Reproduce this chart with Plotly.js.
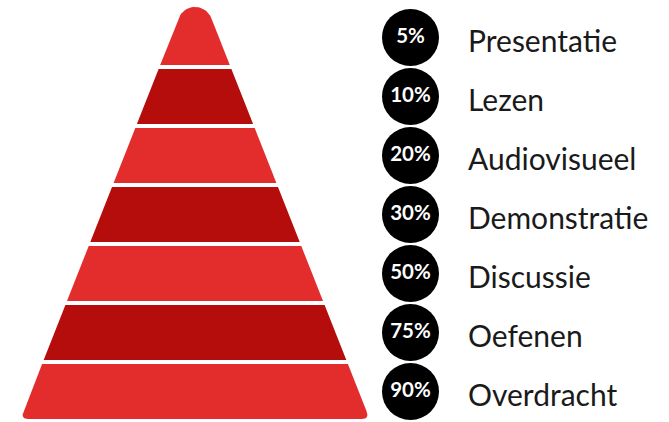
<!DOCTYPE html>
<html>
<head>
<meta charset="utf-8">
<script src="https://cdn.plot.ly/plotly-3.0.1.min.js"></script>
<style>
  html, body { margin: 0; padding: 0; background: #ffffff; }
  #chart { width: 669px; height: 422px; }
</style>
</head>
<body>
<div id="chart"></div>
<script>
// ---- data ----
const levels = ['Presentatie', 'Lezen', 'Audiovisueel', 'Demonstratie', 'Discussie', 'Oefenen', 'Overdracht'];
const retention = [5, 10, 20, 30, 50, 75, 90];
const retentionLabels = retention.map(v => v + '%');
const layerColors = ['#e32c2c', '#b50c0c'];

// ---- geometry (axis units) ----
const W = 669, H = 422;
const CX = 195;            // pyramid axis
const APEX = -23.1;        // virtual apex of the triangle
const SLOPE = 0.395;       // half-width growth per unit of depth
const ROW0 = 37.5, ROW = 59, HALF = 27.5;  // band centers / half height
const CIRCLE_X = 410.5, LABEL_X = 466;

const hw = y => SLOPE * (y - APEX);
const rowY = i => ROW0 + i * ROW;

function quad(p0, p1, p2, n) {
  const pts = [];
  for (let k = 0; k <= n; k++) {
    const t = k / n;
    pts.push([
      (1 - t) * (1 - t) * p0[0] + 2 * (1 - t) * t * p1[0] + t * t * p2[0],
      (1 - t) * (1 - t) * p0[1] + 2 * (1 - t) * t * p1[1] + t * t * p2[1]
    ]);
  }
  return pts;
}

function layerPath(i, n) {
  const top = rowY(i) - HALF, bot = rowY(i) + HALF;
  let pts = [];
  if (i === 0) {
    // rounded cap tangent to both edges
    const ang = Math.atan(SLOPE);
    const r = (top - 3 - APEX) / (1 / Math.sin(ang) - 1);
    const cy = APEX + r / Math.sin(ang);
    const a0 = Math.PI / 2 - ang;
    pts.push([CX - hw(bot), bot]);
    for (let k = 0; k <= 24; k++) {
      const th = -a0 + 2 * a0 * k / 24;
      pts.push([CX + r * Math.sin(th), cy - r * Math.cos(th)]);
    }
    pts.push([CX + hw(bot), bot]);
  } else if (i === n - 1) {
    const rr = 8;
    pts.push([CX - hw(top), top]);
    pts = pts.concat(quad([CX - hw(bot - rr), bot - rr], [CX - hw(bot), bot], [CX - hw(bot) + rr, bot], 8));
    pts = pts.concat(quad([CX + hw(bot) - rr, bot], [CX + hw(bot), bot], [CX + hw(bot - rr), bot - rr], 8));
    pts.push([CX + hw(top), top]);
  } else {
    pts = [[CX - hw(top), top], [CX - hw(bot), bot], [CX + hw(bot), bot], [CX + hw(top), top]];
  }
  pts.push(pts[0]);
  return pts;
}

const traces = levels.map((name, i) => {
  const p = layerPath(i, levels.length);
  return {
    type: 'scatter', mode: 'lines', name: name,
    x: p.map(q => q[0]), y: p.map(q => q[1]),
    fill: 'toself', fillcolor: layerColors[i % 2],
    line: { width: 0, color: layerColors[i % 2] },
    hoverinfo: 'skip', showlegend: false
  };
});

traces.push({
  type: 'scatter', mode: 'markers+text',
  x: levels.map(() => CIRCLE_X), y: levels.map((_, i) => rowY(i)),
  marker: { size: 57, color: '#000000', line: { width: 0 } },
  text: retentionLabels, textposition: 'middle center',
  textfont: { family: 'Lato, "DejaVu Sans", sans-serif', size: 20.5, color: '#ffffff', weight: 'bold' },
  hoverinfo: 'skip', showlegend: false, cliponaxis: false
});

const annotations = levels.map((name, i) => ({
  x: LABEL_X, y: rowY(i) + 2, xref: 'x', yref: 'y',
  text: name, showarrow: false, xanchor: 'left', yanchor: 'middle',
  font: { family: 'Lato, "Open Sans", sans-serif', size: 30, color: '#1a1a1a' }
}));

const layout = {
  width: W, height: H,
  margin: { l: 0, r: 0, t: 0, b: 0, pad: 0 },
  paper_bgcolor: '#ffffff', plot_bgcolor: '#ffffff',
  xaxis: { range: [0, W], visible: false, fixedrange: true },
  yaxis: { range: [H, 0], visible: false, fixedrange: true },
  annotations: annotations,
  showlegend: false
};

Plotly.newPlot('chart', traces, layout, { staticPlot: true, displayModeBar: false });
</script>
</body>
</html>
